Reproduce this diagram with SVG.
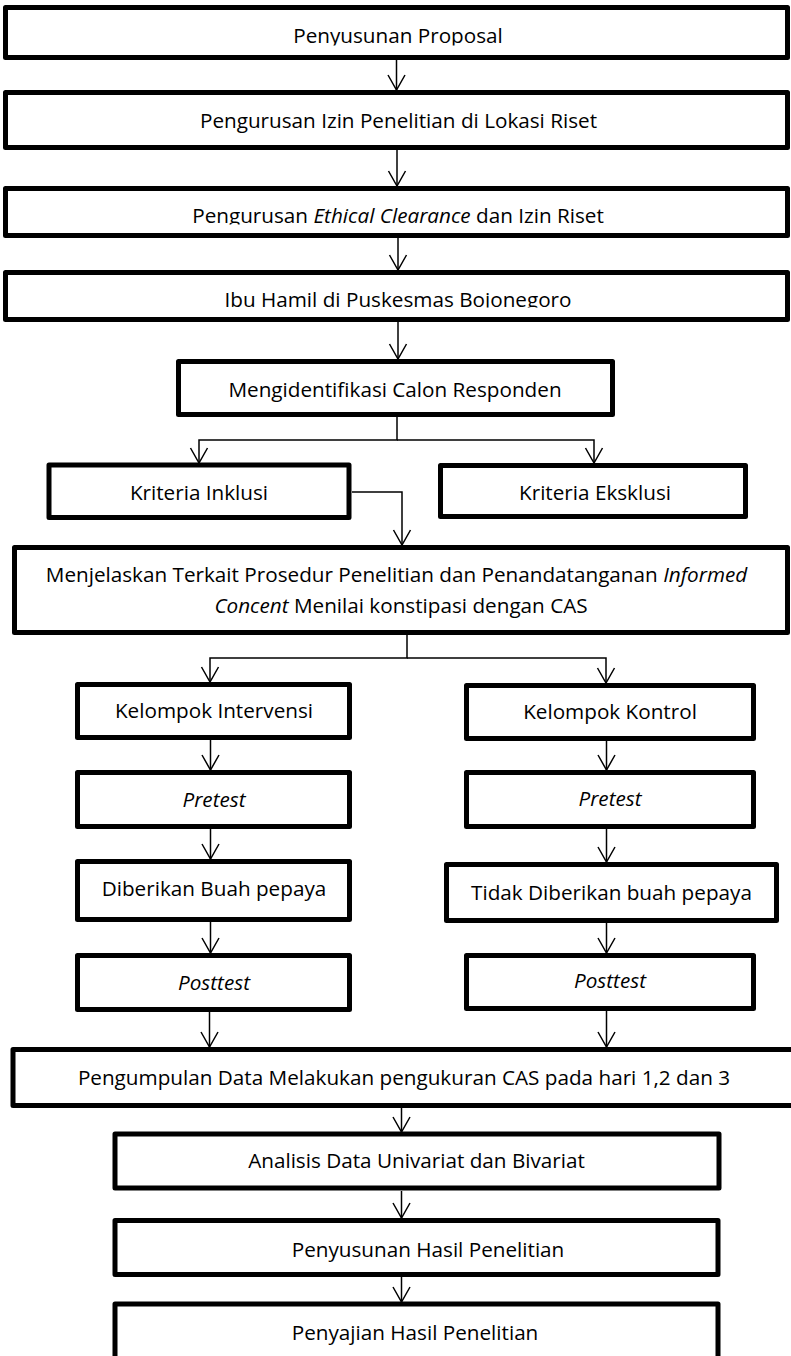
<svg xmlns="http://www.w3.org/2000/svg" width="791" height="1356" viewBox="0 0 791 1356">
<style>
.box{fill:#fff;stroke:#000;stroke-width:5;stroke-linejoin:round}
.t{font-family:"Open Sans","Liberation Sans",sans-serif;font-size:20.7px;fill:#000;text-anchor:middle}
.i{font-style:italic}
.c{fill:none;stroke:#000;stroke-width:1.5}
</style>
<defs>
<marker id="ah" markerUnits="userSpaceOnUse" markerWidth="20" markerHeight="20" refX="0" refY="0" orient="auto" overflow="visible">
<path d="M-15,-8.5 L0,0 L-15,8.5" fill="none" stroke="#000" stroke-width="1.5"/>
</marker>
<clipPath id="cp1"><rect x="0" y="0" width="791" height="45.5"/></clipPath>
<clipPath id="cp3"><rect x="0" y="186" width="791" height="38.5"/></clipPath>
<clipPath id="cp4"><rect x="0" y="270" width="791" height="37.5"/></clipPath>
</defs>
<rect width="791" height="1356" fill="#fff"/>
<g id="connectors">
<path class="c" marker-end="url(#ah)" d="M396.5,60 V90"/>
<path class="c" marker-end="url(#ah)" d="M397,150 V186"/>
<path class="c" marker-end="url(#ah)" d="M398,238 V270"/>
<path class="c" marker-end="url(#ah)" d="M398,322 V359"/>
<path class="c" marker-end="url(#ah)" d="M397,417 V440 H199 V463"/>
<path class="c" marker-end="url(#ah)" d="M397,440 H594 V463"/>
<path class="c" marker-end="url(#ah)" d="M352,492 H402 V545"/>
<path class="c" marker-end="url(#ah)" d="M407,635 V658 H210 V682"/>
<path class="c" marker-end="url(#ah)" d="M407,658 H606 V683"/>
<path class="c" marker-end="url(#ah)" d="M210.5,740 V770"/>
<path class="c" marker-end="url(#ah)" d="M210.5,829 V859"/>
<path class="c" marker-end="url(#ah)" d="M210.5,922 V953"/>
<path class="c" marker-end="url(#ah)" d="M209.5,1012 V1047"/>
<path class="c" marker-end="url(#ah)" d="M606.5,741 V770"/>
<path class="c" marker-end="url(#ah)" d="M606.5,829 V862"/>
<path class="c" marker-end="url(#ah)" d="M606.5,923 V953"/>
<path class="c" marker-end="url(#ah)" d="M606.5,1011 V1047"/>
<path class="c" marker-end="url(#ah)" d="M401.5,1108 V1132"/>
<path class="c" marker-end="url(#ah)" d="M401.5,1191 V1218"/>
<path class="c" marker-end="url(#ah)" d="M401.5,1277 V1302"/>
</g>
<g id="n1"><rect class="box" x="5.5" y="7.5" width="782" height="50"/><text class="t" x="398" y="43" clip-path="url(#cp1)">Penyusunan Proposal</text></g>
<g id="n2"><rect class="box" x="5.5" y="92.5" width="782" height="55"/><text class="t" x="398.5" y="128">Pengurusan Izin Penelitian di Lokasi Riset</text></g>
<g id="n3"><rect class="box" x="5.5" y="188.5" width="782" height="47"/><text class="t" x="398" y="222.5" clip-path="url(#cp3)">Pengurusan <tspan class="i">Ethical Clearance</tspan> dan Izin Riset</text></g>
<g id="n4"><rect class="box" x="5.5" y="272.5" width="782" height="47"/><text class="t" x="398" y="306.5" clip-path="url(#cp4)">Ibu Hamil di Puskesmas Bojonegoro</text></g>
<g id="n5"><rect class="box" x="178.5" y="361.5" width="434" height="53"/><text class="t" x="395" y="396.5">Mengidentifikasi Calon Responden</text></g>
<g id="n6"><rect class="box" x="49" y="465" width="300" height="52.5"/><text class="t" x="199" y="500">Kriteria Inklusi</text></g>
<g id="n7"><rect class="box" x="440.5" y="465.5" width="305" height="51"/><text class="t" x="595" y="500">Kriteria Eksklusi</text></g>
<g id="n8"><rect class="box" x="14.5" y="547.5" width="773" height="85"/><text class="t" x="396.5" y="582">Menjelaskan Terkait Prosedur Penelitian dan Penandatanganan <tspan class="i">Informed</tspan></text><text class="t" x="401" y="613"><tspan class="i">Concent</tspan> Menilai konstipasi dengan CAS</text></g>
<g id="n9"><rect class="box" x="77.5" y="684.5" width="272" height="53"/><text class="t" x="214" y="718">Kelompok Intervensi</text></g>
<g id="n10"><rect class="box" x="466.5" y="685.5" width="287" height="53"/><text class="t" x="610" y="719">Kelompok Kontrol</text></g>
<g id="n11"><rect class="box" x="77.5" y="772.5" width="272" height="54"/><text class="t i" x="214" y="807">Pretest</text></g>
<g id="n12"><rect class="box" x="466.5" y="772.5" width="287" height="54"/><text class="t i" x="610" y="806">Pretest</text></g>
<g id="n13"><rect class="box" x="77.5" y="861.5" width="272" height="58"/><text class="t" x="214" y="896">Diberikan Buah pepaya</text></g>
<g id="n14"><rect class="box" x="446.5" y="864.5" width="330" height="56"/><text class="t" x="611.5" y="900">Tidak Diberikan buah pepaya</text></g>
<g id="n15"><rect class="box" x="77.5" y="955.5" width="272" height="54"/><text class="t i" x="214" y="990">Posttest</text></g>
<g id="n16"><rect class="box" x="466.5" y="955.5" width="287" height="53"/><text class="t i" x="610" y="988">Posttest</text></g>
<g id="n17"><rect class="box" x="13" y="1049.5" width="790" height="56"/><text class="t" x="404" y="1085">Pengumpulan Data Melakukan pengukuran CAS pada hari 1,2 dan 3</text></g>
<g id="n18"><rect class="box" x="115" y="1134" width="604" height="54"/><text class="t" x="416.5" y="1168">Analisis Data Univariat dan Bivariat</text></g>
<g id="n19"><rect class="box" x="115" y="1220.5" width="603" height="54"/><text class="t" x="428" y="1256.5">Penyusunan Hasil Penelitian</text></g>
<g id="n20"><rect class="box" x="115" y="1304" width="603" height="70"/><text class="t" x="415" y="1340">Penyajian Hasil Penelitian</text></g>
</svg>
